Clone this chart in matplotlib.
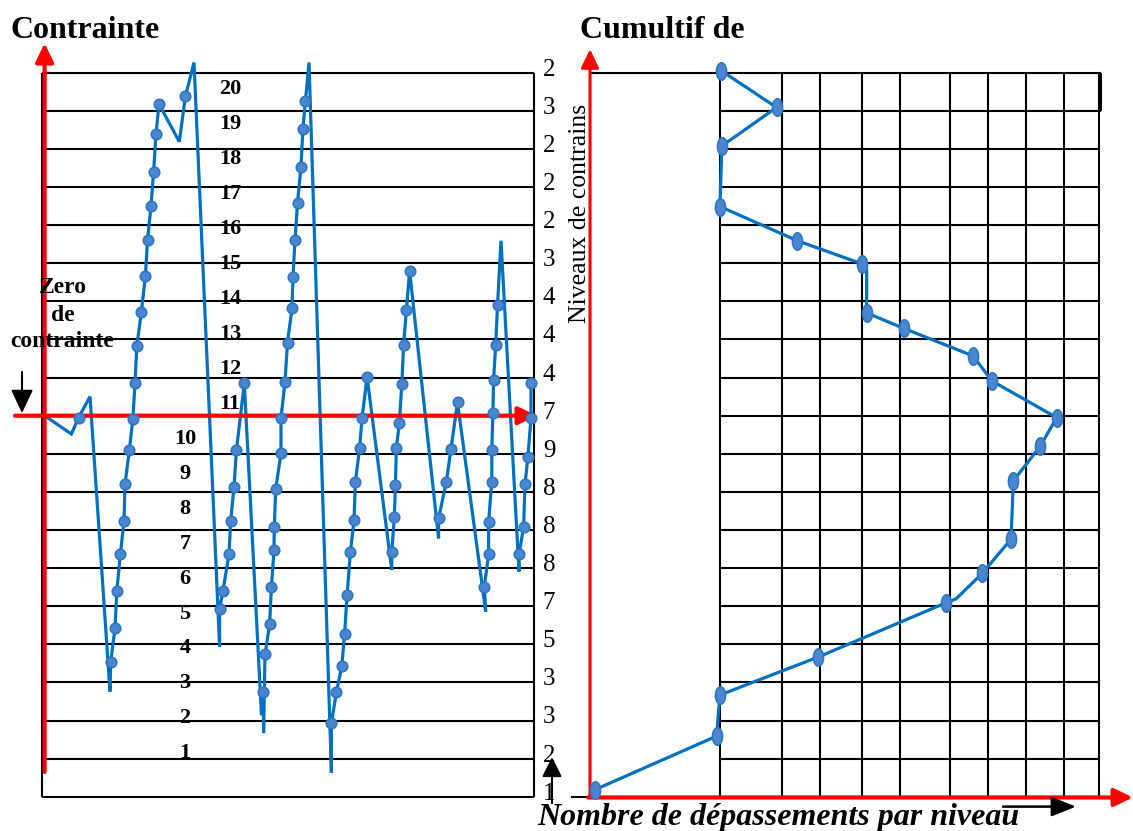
import matplotlib
matplotlib.use('Agg')
import matplotlib.pyplot as plt
from matplotlib.path import Path
from matplotlib.transforms import Affine2D

W, H = 1133, 831

# ---------------- data ----------------
# left panel: stress history (time units, stress level)
stress_time = [2.6, 29.4, 36.6, 48.0, 68.0, 68.7, 73.0, 74.8, 78.4, 82.0,
               83.0, 87.3, 90.9, 93.0, 94.8, 99.4, 103.4, 105.5, 109.0, 111.6,
               114.0, 117.0, 137.3, 143.4, 152.0, 177.6, 177.6, 180.9, 187.0, 188.7,
               192.0, 194.4, 202.3, 219.5, 221.2, 221.6, 223.0, 227.6, 229.4, 232.0,
               232.3, 233.7, 239.0, 239.0, 243.0, 245.5, 250.0, 251.0, 253.0, 255.5,
               259.0, 260.9, 263.4, 267.0, 289.4, 289.4, 294.4, 299.8, 302.6, 305.1,
               308.4, 312.0, 313.4, 317.6, 320.0, 325.1, 349.8, 349.8, 352.3, 353.4,
               354.4, 357.3, 359.8, 361.6, 364.4, 367.6, 396.6, 396.6, 404.4, 409.0,
               415.5, 443.7, 442.3, 446.6, 446.6, 449.8, 449.8, 450.9, 451.6, 453.7,
               455.5, 459.0, 477.0, 477.0, 481.6, 483.0, 485.9, 489.0, 489.0]
stress_level = [10.00, 9.52, 9.95, 10.50, 2.76, 3.54, 4.42, 5.40, 6.37, 7.24,
                8.20, 9.09, 9.92, 10.85, 11.82, 12.73, 13.67, 14.61, 15.50, 16.40,
                17.40, 18.18, 17.19, 18.38, 19.27, 3.94, 4.92, 5.40, 6.37, 7.24,
                8.14, 9.09, 10.85, 2.14, 2.76, 1.67, 3.74, 4.52, 5.50, 6.47,
                7.08, 8.08, 9.01, 9.94, 10.89, 11.92, 12.82, 13.65, 14.61, 15.59,
                16.54, 17.53, 18.25, 19.27, 0.63, 1.93, 2.74, 3.43, 4.27, 5.29,
                6.43, 7.25, 8.27, 9.14, 9.94, 11.01, 5.95, 6.43, 7.34, 8.17,
                9.16, 9.80, 10.82, 11.86, 12.77, 13.80, 6.78, 7.31, 8.27, 9.13,
                10.35, 4.86, 5.51, 6.36, 7.22, 8.27, 9.09, 10.06, 10.94, 11.86,
                12.90, 14.59, 5.91, 6.37, 7.07, 8.20, 8.91, 9.94, 10.85]
turning_points = [0, 1, 3, 4, 22, 24, 25, 33, 35, 53, 54, 66, 76, 81, 91, 92]

level_labels = list(range(1, 21))
# counts written at each level line, bottom (level 0) to top (level 19)
exceed_counts = [1, 2, 3, 3, 5, 7, 8, 8, 8, 9, 7, 4, 4, 4, 3, 2, 2, 2, 3, 2]

# right panel: cumulative curve
cum_x = [3.46, 4.91, 3.47, 3.42, 5.46, 7.17, 7.28, 7.28, 8.26, 10.08, 10.58,
         12.28, 11.85, 11.14, 11.08, 10.32, 9.63, 9.37, 5.99, 3.42, 3.33, 0.12]
cum_level = [19.05, 18.09, 17.08, 15.49, 14.59, 13.98, 13.82, 12.70, 12.29, 11.57, 10.91,
             9.95, 9.20, 8.29, 6.76, 5.86, 5.19, 5.09, 3.66, 2.67, 1.59, 0.18]
cum_unmarked = [6, 16]
grid_x = [3.42, 5.05, 6.05, 7.16, 8.16, 9.47, 10.47, 11.47, 12.47, 13.39]
top_row_right = 13.45

# ---------------- style ----------------
BLUE = '#0070C0'
MFACE = '#4A86D0'
MEDGE = '#2F75C0'
RED = '#FF0000'
SERIF = 'Liberation Serif'
N_LEVELS = 20

fig = plt.figure(figsize=(W / 100, H / 100), dpi=100)
axL = fig.add_axes([0, 0, 560 / W, 1])
axR = fig.add_axes([560 / W, 0, 573 / W, 1])
ylim = (-0.90, 20.91)
axL.set_xlim(-42, 518)
axL.set_ylim(*ylim)
axR.set_xlim(-30 / 38, 543 / 38)
axR.set_ylim(*ylim)
for ax in (axL, axR):
    ax.axis('off')
    ax.patch.set_alpha(0)


def arrow(ax, start, end, color, lw, hl, hw, ms=15, z=3):
    ax.annotate('', xy=end, xytext=start, annotation_clip=False,
                arrowprops=dict(arrowstyle=f'-|>,head_length={hl},head_width={hw}',
                                color=color, lw=lw, shrinkA=0, shrinkB=0,
                                mutation_scale=ms), zorder=z)


# ---------- left panel ----------
box_right = 492
axL.hlines(range(N_LEVELS), 0, box_right, color='black', lw=1.5, zorder=1)
axL.vlines([0, box_right], 0, N_LEVELS - 1, color='black', lw=1.5, zorder=1)

axL.plot(stress_time, stress_level, color=BLUE, lw=2.3, zorder=2, clip_on=False,
         solid_joinstyle='miter')
mk = [i for i in range(len(stress_time)) if i not in turning_points]
axL.plot([stress_time[i] for i in mk], [stress_level[i] for i in mk], 'o',
         ms=7.5, mfc=MFACE, mec=MEDGE, mew=1.2, zorder=4, clip_on=False)

# red axes
arrow(axL, (2.6, 0.65), (2.6, 19.78), RED, 3, 0.75, 0.36, z=3)
arrow(axL, (-27, 10.0), (495, 10.0), RED, 3, 0.75, 0.36, z=3)

# level labels
for k in level_labels:
    x = 143 if k <= 10 else 188
    y = 1.14 + (k - 1) * 0.917
    axL.text(x, y, str(k), ha='center', va='center', fontsize=16,
             fontweight='bold', family=SERIF, zorder=5)

# counts at each level line
for lvl, c in enumerate(exceed_counts):
    axL.text(507, lvl + 0.08, str(c), ha='center', va='center', fontsize=18,
             family=SERIF, zorder=5, clip_on=False)

# zero-stress annotation
for txt, x, y in [('Zero', 20.5, 13.37), ('de', 21.2, 12.62), ('contrainte', 20.5, 11.94)]:
    axL.text(x, y, txt, ha='center', va='center', fontsize=17,
             fontweight='bold', family=SERIF, zorder=5)
arrow(axL, (-20, 11.15), (-20, 10.07), 'black', 1.5, 0.95, 0.45, ms=15)
arrow(axL, (510, -0.17), (510, 1.04), 'black', 1.5, 0.8, 0.4, ms=15)

# ---------- right panel ----------
axR.vlines(grid_x, 0, N_LEVELS - 1, color='black', lw=1.5, zorder=1)
axR.hlines(range(0, N_LEVELS - 1), grid_x[0], grid_x[-1], color='black', lw=1.5, zorder=1)
axR.hlines(N_LEVELS - 1, 0, top_row_right, color='black', lw=1.5, zorder=1)
axR.hlines(N_LEVELS - 2, grid_x[-1], top_row_right, color='black', lw=1.5, zorder=1)
axR.vlines(top_row_right, N_LEVELS - 2, N_LEVELS - 1, color='black', lw=1.5, zorder=1)
axR.hlines(0, -0.5, grid_x[-1], color='black', lw=1.5, zorder=1)

arrow(axR, (0, -0.02), (0, 19.62), RED, 2.2, 0.75, 0.36, z=3)
arrow(axR, (-0.05, -0.02), (14.29, -0.02), RED, 3, 0.75, 0.36, z=3)

axR.plot(cum_x, cum_level, color=BLUE, lw=2.3, zorder=2, clip_on=False)
ellipse = Path.unit_circle().transformed(Affine2D().scale(0.58, 1.0))
cm = [i for i in range(len(cum_x)) if i not in cum_unmarked]
axR.plot([cum_x[i] for i in cm], [cum_level[i] for i in cm], linestyle='none',
         marker=ellipse, ms=12.5, mfc=MFACE, mec=MEDGE, mew=1.2, zorder=4, clip_on=False)

arrow(axR, (10.87, -0.26), (12.79, -0.26), 'black', 1.8, 1.0, 0.4, ms=15)

# ---------- texts ----------
fig.text(10 / W, 1 - 38 / H, 'Contrainte', fontsize=23, fontweight='bold',
         family=SERIF, ha='left', va='baseline')
fig.text(580 / W, 1 - 38 / H, 'Cumultif de', fontsize=23, fontweight='bold',
         family=SERIF, ha='left', va='baseline')
fig.text(580 / W, 1 - 213 / H, 'Niveaux de contrains', fontsize=18.5,
         family=SERIF, ha='center', va='center', rotation=90)
fig.text(537 / W, 1 - 825 / H, 'Nombre de dépassements par niveau', fontsize=23,
         fontweight='bold', fontstyle='italic', family=SERIF, ha='left', va='baseline')

fig.savefig('out.png', dpi=100)
